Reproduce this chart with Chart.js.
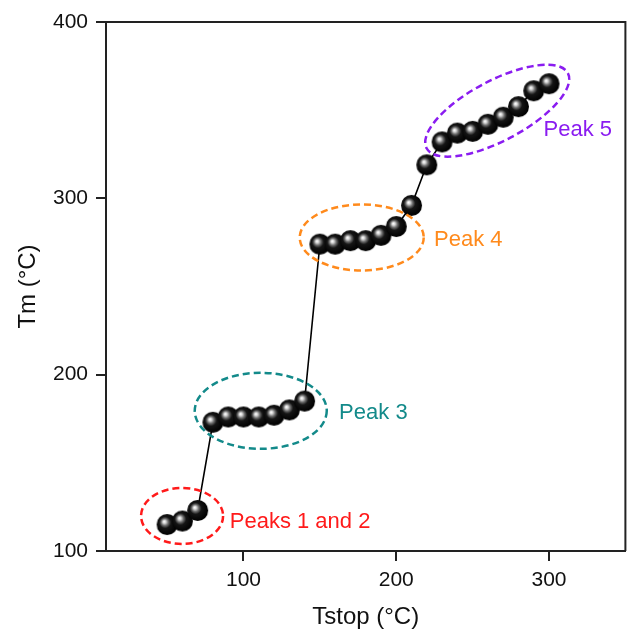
<!DOCTYPE html>
<html lang="en">
  <head>
    <meta charset="UTF-8">
    <script src="https://cdn.jsdelivr.net/npm/chart.js"></script>
    <title>Tm vs Tstop</title>
    <style>
      body{margin: 0; background: #fff;}
      #wrap{width: 637px; height: 632px;}
    </style>
  </head>
  <body>
    <div id="wrap">
      <canvas id="myChart" width="637" height="632"></canvas>
    </div>
    <script>
      // data
      const tstop = [50, 60, 70, 80, 90, 100, 110, 120, 130, 140, 150, 160, 170, 180, 190, 200, 210, 220, 230, 240, 250, 260, 270, 280, 290, 300];
      const tm = [115, 117, 123, 173, 176, 176, 176, 177, 180, 185, 274, 274, 276, 276, 279, 284, 296, 319, 332, 337, 338, 342, 346, 352, 361, 365];
      const xTicks = [100, 200, 300];
      const yTicks = [100, 200, 300, 400];
      const peakNames = ['Peaks 1 and 2', 'Peak 3', 'Peak 4', 'Peak 5'];

      const fontFamily = 'Arial, "Liberation Sans", sans-serif';
      const axisColor = '#222';

      // dashed rings + labels (centres in data units, radii in px)
      const peakStyle = [
        {color: '#ff1a1a', cx: 59.8, cy: 119.9, rx: 41, ry: 28, rot: 0, tx: 91, ty: 116.5},
        {color: '#138a8a', cx: 111.3, cy: 179.5, rx: 66, ry: 38, rot: 0, tx: 162.6, ty: 178.4},
        {color: '#ff8a1c', cx: 177.4, cy: 277.8, rx: 62, ry: 33, rot: 0, tx: 224.7, ty: 276.5},
        {color: '#8a1cf0', cx: 266.1, cy: 349.7, rx: 80, ry: 30, rot: -28, tx: 296.4, ty: 338.6}
      ];

      // black shiny sphere used as the marker
      function makeBall(r){
        const c = document.createElement('canvas');
        c.width = r * 2 + 2;
        c.height = r * 2 + 2;
        const g = c.getContext('2d');
        const m = r + 1;
        const grad = g.createRadialGradient(m - 3, m - 3, 0, m - 1, m - 1, r + 1);
        grad.addColorStop(0, '#ffffff');
        grad.addColorStop(0.12, '#e0e0e0');
        grad.addColorStop(0.3, '#707070');
        grad.addColorStop(0.5, '#151515');
        grad.addColorStop(1, '#000000');
        g.fillStyle = grad;
        g.beginPath();
        g.arc(m, m, r, 0, Math.PI * 2);
        g.fill();
        return c;
      }
      const ball = makeBall(10.5);

      // box around the plot
      const framePlugin = {
        id: 'frame',
        afterDraw(chart){
          const a = chart.chartArea;
          const ctx = chart.ctx;
          ctx.save();
          ctx.strokeStyle = axisColor;
          ctx.lineWidth = 2;
          ctx.beginPath();
          ctx.moveTo(a.left, a.top);
          ctx.lineTo(a.right, a.top);
          ctx.lineTo(a.right, a.bottom);
          ctx.stroke();
          ctx.restore();
        }
      };

      // peak rings and names
      const peakPlugin = {
        id: 'peaks',
        afterDatasetsDraw(chart){
          const ctx = chart.ctx;
          const xs = chart.scales.x;
          const ys = chart.scales.y;
          ctx.save();
          peakStyle.forEach(function(p, i){
            ctx.strokeStyle = p.color;
            ctx.lineWidth = 2.5;
            ctx.setLineDash([7, 4]);
            ctx.beginPath();
            ctx.ellipse(xs.getPixelForValue(p.cx), ys.getPixelForValue(p.cy), p.rx, p.ry, p.rot * Math.PI / 180, 0, Math.PI * 2);
            ctx.stroke();
            ctx.setLineDash([]);
            ctx.fillStyle = p.color;
            ctx.font = '22px ' + fontFamily;
            ctx.textAlign = 'left';
            ctx.textBaseline = 'middle';
            ctx.fillText(peakNames[i], xs.getPixelForValue(p.tx), ys.getPixelForValue(p.ty));
          });
          ctx.restore();
        }
      };

      const ctx = document.getElementById('myChart');
      new Chart(ctx, {
        type: 'line',
        data: {
          datasets: [{
            data: tstop.map(function(x, i){ return {x: x, y: tm[i]}; }),
            borderColor: '#000',
            borderWidth: 1.6,
            pointStyle: ball,
            pointRadius: 10,
            tension: 0
          }]
        },
        options: {
          responsive: false,
          animation: false,
          layout: {padding: {top: 22, right: 1, left: 0, bottom: 0}},
          plugins: {legend: {display: false}, tooltip: {enabled: false}},
          scales: {
            x: {
              type: 'linear',
              min: 10,
              max: 350,
              afterBuildTicks: function(s){ s.ticks = xTicks.map(function(v){ return {value: v}; }); },
              afterFit: function(s){ s.height = 81; },
              grid: {drawOnChartArea: false, tickLength: 10, color: axisColor, lineWidth: 2},
              border: {color: axisColor, width: 2},
              ticks: {color: '#111', font: {family: fontFamily, size: 21}, padding: 7, maxRotation: 0},
              title: {display: true, text: 'Tstop (°C)', color: '#111', font: {family: fontFamily, size: 24}, padding: {top: 4, bottom: 0}}
            },
            y: {
              min: 100,
              max: 400,
              afterBuildTicks: function(s){ s.ticks = yTicks.map(function(v){ return {value: v}; }); },
              afterFit: function(s){ s.width = 106; },
              grid: {drawOnChartArea: false, tickLength: 10, color: axisColor, lineWidth: 2},
              border: {color: axisColor, width: 2},
              ticks: {color: '#111', font: {family: fontFamily, size: 21}, padding: 8},
              title: {display: true, text: 'Tm (°C)', color: '#111', font: {family: fontFamily, size: 24}, padding: {top: 14, bottom: 0}}
            }
          }
        },
        plugins: [framePlugin, peakPlugin]
      });
    </script>
  </body>
</html>
